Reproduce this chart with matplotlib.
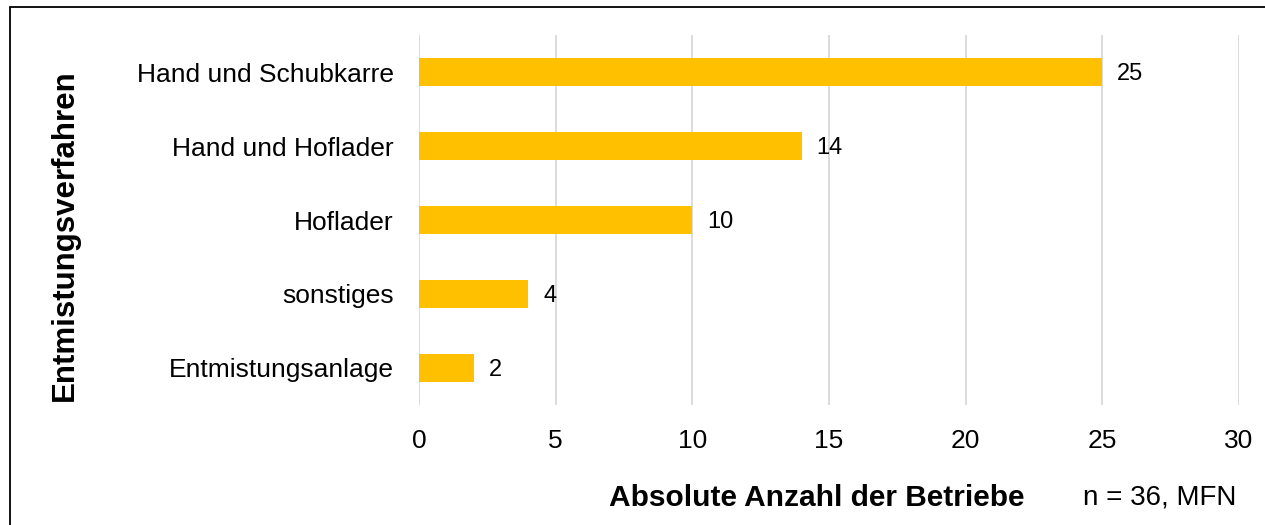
import matplotlib.pyplot as plt
from matplotlib.patches import Rectangle

categories = ["Entmistungsanlage", "sonstiges", "Hoflader", "Hand und Hoflader", "Hand und Schubkarre"]
counts = [2, 4, 10, 14, 25]
xticks = [0, 5, 10, 15, 20, 25, 30]

plt.rcParams["font.family"] = ["Liberation Sans", "DejaVu Sans"]

fig = plt.figure(figsize=(12.65, 5.25), dpi=100)
ax = fig.add_axes([419 / 1265, 1 - 405 / 525, (1239 - 419) / 1265, (405 - 35) / 525])

bars = ax.barh(categories, counts, height=0.38, color="#FFC000", zorder=3)
for bar, v in zip(bars, counts):
    ax.text(bar.get_width() + 0.55, bar.get_y() + bar.get_height() / 2, str(v),
            va="center_baseline", ha="left", fontsize=17)

ax.set_xlim(0, 30)
ax.set_ylim(-0.5, 4.5)
ax.set_xticks(xticks)
ax.grid(axis="x", color="#D9D9D9", linewidth=1.3, zorder=0)
ax.tick_params(axis="both", length=0, labelsize=19)
ax.tick_params(axis="x", pad=17)
ax.tick_params(axis="y", pad=18)
for s in ax.spines.values():
    s.set_visible(False)

fig.text(65 / 1265, 1 - 235 / 525, "Entmistungsverfahren", rotation=90, fontsize=22.5,
         fontweight="bold", ha="center", va="center")
fig.text(817 / 1265, 1 - 498 / 525, "Absolute Anzahl der Betriebe", fontsize=21.5,
         fontweight="bold", ha="center", va="center")
fig.text(1160 / 1265, 1 - 498 / 525, "n = 36, MFN", fontsize=20, ha="center", va="center")

fig.patches.append(Rectangle((10 / 1265, -0.1), 1.2, 1 - 7 / 525 + 0.1, transform=fig.transFigure,
                             fill=False, edgecolor="black", linewidth=1.3))

fig.savefig("out.png", dpi=100)
